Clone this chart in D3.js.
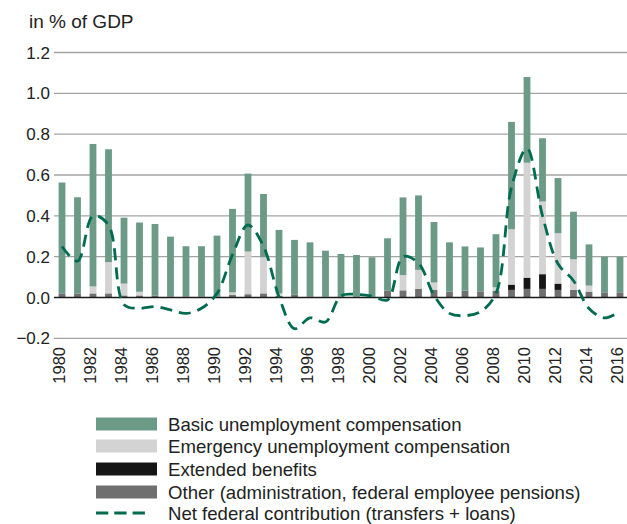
<!DOCTYPE html>
<html>
<head>
<meta charset="utf-8">
<script src="https://cdn.jsdelivr.net/npm/d3@7"></script>
<style>
  html, body { margin: 0; padding: 0; background: #fff; }
  svg text { font-family: "Liberation Sans", Arial, Helvetica, sans-serif; fill: #222; }
</style>
</head>
<body>
<svg id="chart" width="627" height="524"></svg>
<script>
const years = d3.range(1980, 2017);
const basic = [0.543,0.471,0.698,0.553,0.323,0.339,0.35,0.293,0.246,0.246,0.298,0.409,0.382,0.31,0.311,0.269,0.265,0.225,0.209,0.204,0.193,0.257,0.38,0.365,0.297,0.241,0.217,0.215,0.26,0.526,0.42,0.31,0.27,0.233,0.202,0.175,0.175];
const emergency = [0,0,0.034,0.153,0.058,0.018,0,0,0,0,0,0.013,0.209,0.177,0.012,0,0,0,0,0,0,0,0.075,0.093,0.036,0,0,0,0.017,0.271,0.563,0.356,0.247,0.15,0.029,0,0];
const extended = [0,0,0,0,0,0,0,0,0,0,0,0,0,0,0,0,0,0,0,0,0,0,0,0,0,0,0,0,0,0.026,0.055,0.072,0.031,0,0,0,0];
const other = [0.02,0.02,0.02,0.02,0.01,0.01,0.01,0.005,0.005,0.005,0.005,0.012,0.016,0.02,0.008,0.013,0.005,0.004,0.004,0.004,0.004,0.033,0.035,0.042,0.037,0.029,0.033,0.03,0.033,0.037,0.042,0.042,0.037,0.037,0.029,0.025,0.025];
const netFederal = [0.25,0.178,0.40,0.355,-0.035,-0.053,-0.045,-0.061,-0.078,-0.053,0.02,0.21,0.355,0.25,0.004,-0.153,-0.10,-0.12,0.008,0.015,0.007,-0.012,0.2,0.168,0.01,-0.078,-0.089,-0.07,0.02,0.54,0.73,0.40,0.165,0.082,-0.054,-0.10,-0.068];
const yTicks = [-0.2,0.0,0.2,0.4,0.6,0.8,1.0,1.2];
const xTickYears = d3.range(1980, 2017, 2);
const seriesKeys = ["other","extended","emergency","basic"];
const seriesNames = {
  basic: "Basic unemployment compensation",
  emergency: "Emergency unemployment compensation",
  extended: "Extended benefits",
  other: "Other (administration, federal employee pensions)"
};
const lineName = "Net federal contribution (transfers + loans)";
const colors = { basic: "#6b9a86", emergency: "#d2d3d2", extended: "#151515", other: "#6f6f6f" };
const lineColor = "#006b50";
const yTitle = "in % of GDP";

const table = years.map((yr, i) => ({ year: yr, basic: basic[i], emergency: emergency[i], extended: extended[i], other: other[i], net: netFederal[i] }));

const svg = d3.select("#chart");
const x = d3.scaleLinear().domain([1980, 2016]).range([62, 620]);
const y = d3.scaleLinear().domain([-0.2, 1.2]).range([338.3, 52.5]);
const barW = 6.8;

// gridlines
svg.append("g").selectAll("line").data(yTicks.filter(t => t !== 0)).join("line")
  .attr("x1", 54).attr("x2", 627)
  .attr("y1", d => y(d)).attr("y2", d => y(d))
  .attr("stroke", "#a3a3a3").attr("stroke-width", 1.3);

// y labels
svg.append("g").selectAll("text").data(yTicks).join("text")
  .attr("x", 50).attr("y", d => y(d)).attr("dy", "0.36em")
  .attr("text-anchor", "end").attr("font-size", 17)
  .text(d => d3.format(".1f")(d));

svg.append("text").attr("x", 29).attr("y", 28).attr("font-size", 19).text(yTitle);

// stacked bars
const stack = d3.stack().keys(seriesKeys)(table);
svg.append("g").selectAll("g").data(stack).join("g")
  .attr("fill", d => colors[d.key])
  .selectAll("rect").data(d => d).join("rect")
  .attr("x", d => x(d.data.year) - barW / 2)
  .attr("width", barW)
  .attr("y", d => y(d[1]))
  .attr("height", d => Math.max(0, y(d[0]) - y(d[1])));

// zero line
svg.append("line").attr("x1", 54).attr("x2", 627).attr("y1", y(0)).attr("y2", y(0))
  .attr("stroke", "#1a1a1a").attr("stroke-width", 1.4);

// net federal line
const line = d3.line().x(d => x(d.year)).y(d => y(d.net)).curve(d3.curveCatmullRom.alpha(0.5));
svg.append("path").datum(table).attr("d", line)
  .attr("fill", "none").attr("stroke", lineColor).attr("stroke-width", 2.8)
  .attr("stroke-dasharray", "12,7");

// x labels
svg.append("g").selectAll("text").data(xTickYears).join("text")
  .attr("transform", d => `translate(${x(d)},347) rotate(-90)`)
  .attr("y", 3)
  .attr("text-anchor", "end").attr("font-size", 16.5)
  .text(d => d);

// legend
const legendItems = ["basic","emergency","extended","other"];
const rowY = [424, 446, 469, 492, 513];
const lg = svg.append("g");
legendItems.forEach((k, i) => {
  const cy = rowY[i];
  lg.append("rect").attr("x", 96).attr("y", cy - 6.5).attr("width", 61).attr("height", 13).attr("fill", colors[k]);
  lg.append("text").attr("x", 168).attr("y", cy).attr("dy", "0.35em").attr("font-size", 18.6).text(seriesNames[k]);
});
const ly = rowY[4];
lg.append("line").attr("x1", 96).attr("x2", 145).attr("y1", ly).attr("y2", ly)
  .attr("stroke", lineColor).attr("stroke-width", 2.8).attr("stroke-dasharray", "12.3,6");
lg.append("text").attr("x", 168).attr("y", ly).attr("dy", "0.35em").attr("font-size", 18.6).text(lineName);
</script>
</body>
</html>
